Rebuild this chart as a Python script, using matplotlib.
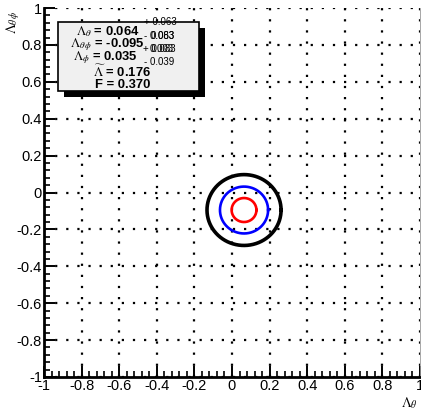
import numpy as np
import matplotlib
matplotlib.use("Agg")
import matplotlib.pyplot as plt
from matplotlib.patches import Rectangle
from matplotlib.ticker import MultipleLocator

# Fit results
lam_theta = 0.064
lam_thetaphi = -0.095
lam_phi = 0.035
lam_tilde = 0.176
f_val = 0.370

# Contour ellipses around the best-fit point: (x radius, y radius, colour)
contour_rx = [0.197, 0.128, 0.066]
contour_ry = [0.192, 0.127, 0.065]
contour_colors = ["black", "blue", "red"]
contour_widths = [2.6, 1.9, 1.9]

tick_values = [-1, -0.8, -0.6, -0.4, -0.2, 0, 0.2, 0.4, 0.6, 0.8, 1]
tick_labels = ["-1", "-0.8", "-0.6", "-0.4", "-0.2", "0", "0.2", "0.4", "0.6", "0.8", "1"]

plt.rcParams["mathtext.fontset"] = "stix"

W, H = 421, 413
fig = plt.figure(figsize=(W / 100, H / 100), dpi=100)
fig.patch.set_facecolor("white")

def fx(px):
    return px / W

def fy(py):
    return 1 - py / H

ax_l, ax_r, ax_t, ax_b = 44, 420, 8, 377
ax = fig.add_axes([fx(ax_l), fy(ax_b), fx(ax_r) - fx(ax_l), fy(ax_t) - fy(ax_b)])
ax.set_xlim(-1, 1)
ax.set_ylim(-1, 1)

# dotted grid at every major division
for v in tick_values:
    ax.axvline(v, color="black", lw=1.6, ls=(0, (1, 4)), zorder=1)
    ax.axhline(v, color="black", lw=1.6, ls=(0, (1, 4)), zorder=1)

t = np.linspace(0, 2 * np.pi, 400)
for rx, ry, c, lw in zip(contour_rx, contour_ry, contour_colors, contour_widths):
    ax.plot(lam_theta + rx * np.cos(t), lam_thetaphi + ry * np.sin(t), color=c, lw=lw, zorder=3)

ax.set_xticks(tick_values)
ax.set_yticks(tick_values)
ax.set_xticklabels(tick_labels)
ax.set_yticklabels(tick_labels)
ax.xaxis.set_minor_locator(MultipleLocator(0.04))
ax.yaxis.set_minor_locator(MultipleLocator(0.04))
ax.tick_params(which="major", direction="in", length=8, width=1.4, top=False, right=False,
               labelsize=10.5, pad=1.5)
ax.tick_params(which="minor", direction="in", length=4, width=1.2, top=False, right=False)
for lab in ax.get_xticklabels() + ax.get_yticklabels():
    lab.set_fontfamily("Liberation Sans")
for side in ["left", "bottom"]:
    ax.spines[side].set_linewidth(2.0)
ax.spines["top"].set_visible(False)
ax.spines["right"].set_linewidth(0.6)
ax.spines["right"].set_color("#999999")

# axis titles
fig.text(fx(409), fy(403), r"$\Lambda_{\theta}$", fontsize=10, ha="center", va="center")
fig.text(fx(13), fy(22), r"$\Lambda_{\theta\,\phi}$", fontsize=10, ha="center", va="center",
         rotation=90)

# result box with drop shadow
bx0, by0, bx1, by1 = 58, 22, 199, 91
sh = 6
fig.patches.append(Rectangle((fx(bx0 + sh), fy(by1 + sh)), fx(bx1 - bx0), fy(by0) - fy(by1),
                             transform=fig.transFigure, facecolor="black", edgecolor="none",
                             zorder=5))
fig.patches.append(Rectangle((fx(bx0), fy(by1)), fx(bx1 - bx0), fy(by0) - fy(by1),
                             transform=fig.transFigure, facecolor="#f0f0f0", edgecolor="black",
                             lw=1.2, zorder=6))

main_kw = dict(fontsize=9.4, fontweight="bold", family="Liberation Sans", va="center",
               ha="right", zorder=10)
err_kw = dict(fontsize=7.0, family="Liberation Sans", va="center", ha="left", zorder=10)

# lines are anchored at their right end
lines = [
    (140, 32, r"$\Lambda_{\theta}$" + f" = {lam_theta:.3f}"),
    (144, 45, r"$\Lambda_{\theta\,\phi}$" + f" = {lam_thetaphi:.3f}"),
    (138, 58, r"$\Lambda_{\phi}$" + f" = {lam_phi:.3f}"),
    (151, 72, r"$\widetilde{\Lambda}$" + f" = {lam_tilde:.3f}"),
    (150, 85, f"F = {f_val:.3f}"),
]
for x, y, s in lines:
    fig.text(fx(x), fy(y), s, **main_kw)

errors = [
    (144, 22, "+ 0.063"),
    (144, 36, "- 0.083"),
    (151, 36, "0.063"),
    (143, 49, "+ 0.083"),
    (150, 49, "0.003"),
    (144, 62, "- 0.039"),
]
for x, y, s in errors:
    fig.text(fx(x), fy(y), s, **err_kw)

fig.savefig("out.png", dpi=100, facecolor="white")
